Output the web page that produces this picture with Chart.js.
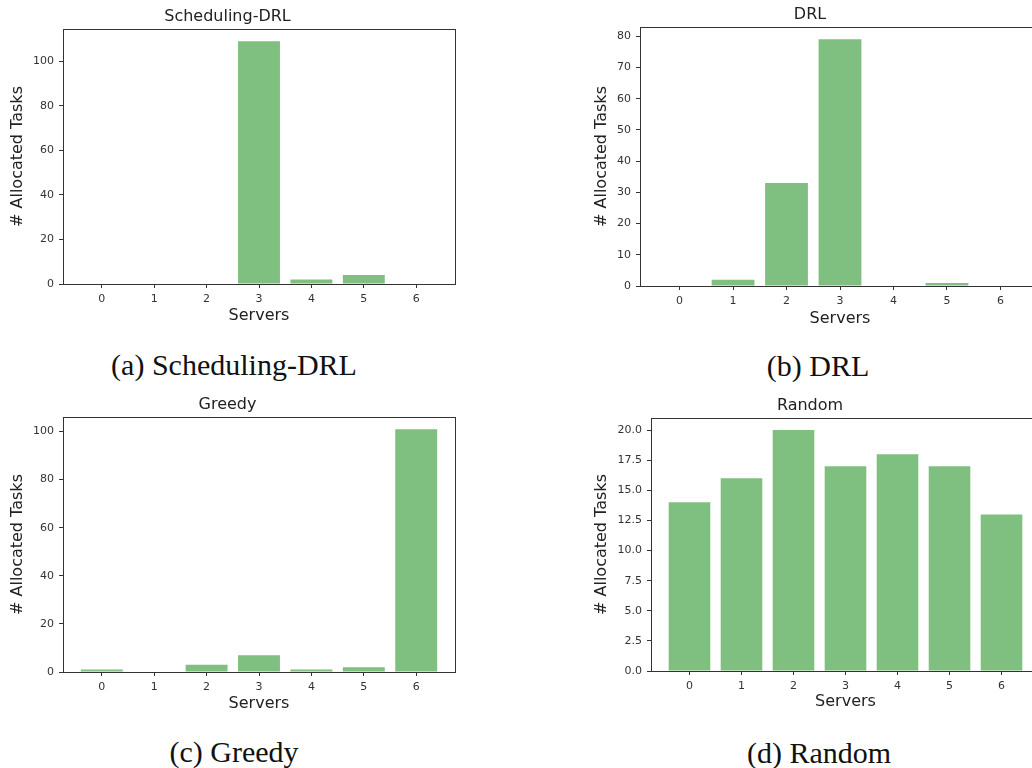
<!DOCTYPE html>
<html>
<head>
<meta charset="utf-8">
<script src="https://cdn.jsdelivr.net/npm/chart.js@4"></script>
<style>
  html, body { margin: 0; padding: 0; background: #fff; }
  body { width: 1032px; height: 768px; overflow: hidden; position: relative; }
  canvas { position: absolute; }
  .caption {
    position: absolute; width: 400px; text-align: center;
    font-family: "Liberation Serif", serif; font-size: 30px; line-height: 30px; color: #111;
  }
</style>
</head>
<body>
<canvas id="chartA"></canvas>
<canvas id="chartB"></canvas>
<canvas id="chartC"></canvas>
<canvas id="chartD"></canvas>
<div class="caption" style="left:34px; top:350px;">(a) Scheduling-DRL</div>
<div class="caption" style="left:618px; top:351px;">(b) DRL</div>
<div class="caption" style="left:34px; top:737px;">(c) Greedy</div>
<div class="caption" style="left:619px; top:738px;">(d) Random</div>
<script>
// data
const servers = [0, 1, 2, 3, 4, 5, 6];
const schedulingDrlTasks = [0, 0, 0, 109, 2, 4, 0];
const drlTasks = [0, 2, 33, 79, 0, 1, 0];
const greedyTasks = [1, 0, 3, 7, 1, 2, 101];
const randomTasks = [14, 16, 20, 17, 18, 17, 13];

const schedulingDrlTicks = [0, 20, 40, 60, 80, 100];
const drlTicks = [0, 10, 20, 30, 40, 50, 60, 70, 80];
const greedyTicks = [0, 20, 40, 60, 80, 100];
const randomTicks = [0, 2.5, 5, 7.5, 10, 12.5, 15, 17.5, 20];

Chart.defaults.font.family = "'DejaVu Sans', sans-serif";
Chart.defaults.color = '#333';

const axisColor = '#333';

// full box around the plot area, like matplotlib spines
const framePlugin = {
    id: 'frame',
    afterDraw(chart) {
        const a = chart.chartArea;
        const ctx = chart.ctx;
        ctx.save();
        ctx.strokeStyle = axisColor;
        ctx.lineWidth = 1;
        ctx.strokeRect(Math.round(a.left) + 0.5, Math.round(a.top) + 0.5,
            Math.round(a.right - a.left), Math.round(a.bottom - a.top));
        ctx.restore();
    }
};

// box: canvas position (x, y, w, h), plot area (l, t, r, b), title / label centres
function makePanel(id, title, values, yTicks, decimals, box) {
    const canvas = document.getElementById(id);
    canvas.width = box.w;
    canvas.height = box.h;
    canvas.style.left = box.x + 'px';
    canvas.style.top = box.y + 'px';

    const titleTop = box.titleY - box.y - 9.6;
    const titleBottom = (box.t - box.y) - 19.2 - titleTop;

    new Chart(canvas.getContext('2d'), {
        type: 'bar',
        data: {
            datasets: [{
                data: servers.map((s, i) => ({ x: s, y: values[i] })),
                backgroundColor: 'rgba(0, 128, 0, 0.5)',
                borderWidth: 0,
                categoryPercentage: 1,
                barPercentage: 0.8
            }]
        },
        options: {
            responsive: false,
            animation: false,
            layout: { padding: { left: 0, top: 0, bottom: 0, right: (box.x + box.w) - box.r } },
            plugins: {
                legend: { display: false },
                tooltip: { enabled: false },
                title: {
                    display: true,
                    text: title,
                    color: '#222',
                    font: { size: 16, weight: 'normal' },
                    padding: { top: titleTop, bottom: titleBottom }
                }
            },
            scales: {
                x: {
                    type: 'linear',
                    min: -0.74,
                    max: 6.74,
                    offset: false,
                    afterBuildTicks: scale => { scale.ticks = servers.map(v => ({ value: v })); },
                    afterFit: scale => { scale.height = (box.y + box.h) - box.b; },
                    grid: { display: true, offset: false, drawOnChartArea: false, drawTicks: true, tickLength: 4, color: axisColor },
                    border: { display: true, color: axisColor, width: 1 },
                    ticks: { font: { size: 11 }, color: '#333', padding: 5, maxRotation: 0, autoSkip: false },
                    title: {
                        display: true,
                        text: 'Servers',
                        color: '#222',
                        font: { size: 16 },
                        padding: { top: 0, bottom: (box.y + box.h) - 9.6 - box.xLabelY }
                    }
                },
                y: {
                    min: 0,
                    max: Math.max(...values) * 1.05,
                    afterBuildTicks: scale => { scale.ticks = yTicks.map(v => ({ value: v })); },
                    afterFit: scale => { scale.width = box.l - box.x; },
                    grid: { display: true, drawOnChartArea: false, drawTicks: true, tickLength: 4, color: axisColor },
                    border: { display: true, color: axisColor, width: 1 },
                    ticks: {
                        font: { size: 11 }, color: '#333', padding: 5,
                        callback: v => v.toFixed(decimals)
                    },
                    title: {
                        display: true,
                        text: '# Allocated Tasks',
                        color: '#222',
                        font: { size: 16 },
                        padding: { top: box.yLabelX - box.x - 9.6, bottom: 0 }
                    }
                }
            }
        },
        plugins: [framePlugin]
    });
}

makePanel('chartA', 'Scheduling-DRL', schedulingDrlTasks, schedulingDrlTicks, 0,
    { x: 0, y: 0, w: 470, h: 340, l: 63, t: 29, r: 455, b: 284, titleY: 17, xLabelY: 316, yLabelX: 17.5 });
makePanel('chartB', 'DRL', drlTasks, drlTicks, 0,
    { x: 580, y: 0, w: 470, h: 340, l: 640, t: 27, r: 1040, b: 286, titleY: 15, xLabelY: 319, yLabelX: 601.5 });
makePanel('chartC', 'Greedy', greedyTasks, greedyTicks, 0,
    { x: 0, y: 390, w: 470, h: 340, l: 63, t: 417, r: 455, b: 672, titleY: 404.5, xLabelY: 704, yLabelX: 17.5 });
makePanel('chartD', 'Random', randomTasks, randomTicks, 1,
    { x: 580, y: 390, w: 470, h: 340, l: 651, t: 418, r: 1040, b: 671, titleY: 406, xLabelY: 702, yLabelX: 601.5 });
</script>
</body>
</html>
